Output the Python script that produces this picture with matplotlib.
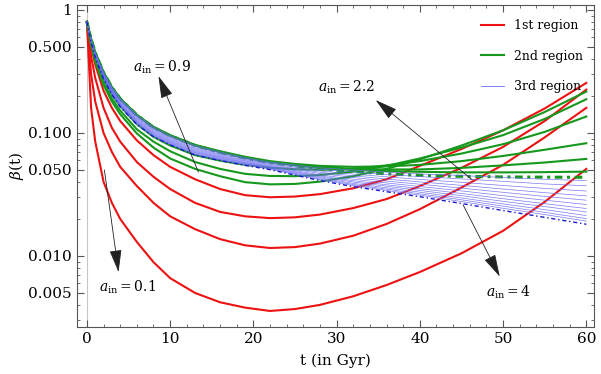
import matplotlib.pyplot as plt
from matplotlib.lines import Line2D

plt.rcParams['font.family'] = 'DejaVu Serif'
plt.rcParams['mathtext.fontset'] = 'dejavuserif'

t = [0, 0.5, 1, 2, 3, 4, 6, 8, 10, 13, 16, 19, 22, 25, 28, 32, 36, 40, 45, 50, 55, 60]

# 1st region (red)
red_curves = [
    [0.80, 0.16, 0.085, 0.040, 0.027, 0.020, 0.013, 0.0089, 0.0066, 0.0050, 0.0042, 0.0038,
     0.00357, 0.0037, 0.0040, 0.0047, 0.0058, 0.0074, 0.0105, 0.0160, 0.0275, 0.051],
    [0.80, 0.30, 0.18, 0.10, 0.070, 0.053, 0.037, 0.027, 0.021, 0.0165, 0.0137, 0.0122,
     0.0116, 0.0118, 0.0126, 0.0146, 0.0182, 0.024, 0.036, 0.055, 0.092, 0.16],
    [0.80, 0.42, 0.28, 0.16, 0.11, 0.085, 0.058, 0.044, 0.035, 0.027, 0.0228, 0.0210,
     0.0203, 0.0206, 0.0217, 0.0245, 0.029, 0.037, 0.052, 0.077, 0.125, 0.225],
    [0.80, 0.50, 0.36, 0.22, 0.16, 0.125, 0.087, 0.066, 0.053, 0.042, 0.0350, 0.0312,
     0.0300, 0.0304, 0.0318, 0.0355, 0.042, 0.054, 0.074, 0.105, 0.158, 0.255],
]

# 2nd region (green)
green_curves = [
    [0.80, 0.52, 0.38, 0.245, 0.18, 0.142, 0.099, 0.076, 0.062, 0.051, 0.0445, 0.0398,
     0.0382, 0.0385, 0.0402, 0.0445, 0.051, 0.061, 0.079, 0.105, 0.148, 0.217],
    [0.80, 0.53, 0.39, 0.255, 0.19, 0.152, 0.107, 0.085, 0.071, 0.058, 0.0510, 0.0465,
     0.0447, 0.0445, 0.0455, 0.0485, 0.054, 0.062, 0.076, 0.096, 0.13, 0.188],
    [0.80, 0.55, 0.41, 0.275, 0.205, 0.165, 0.118, 0.093, 0.079, 0.066, 0.0595, 0.0550,
     0.0522, 0.0507, 0.0502, 0.0510, 0.0545, 0.059, 0.068, 0.081, 0.102, 0.136],
    [0.80, 0.58, 0.45, 0.31, 0.235, 0.19, 0.14, 0.112, 0.096, 0.080, 0.071, 0.064,
     0.059, 0.056, 0.054, 0.0530, 0.0535, 0.055, 0.059, 0.065, 0.073, 0.0825],
    [0.80, 0.58, 0.45, 0.31, 0.235, 0.19, 0.14, 0.112, 0.095, 0.079, 0.070, 0.063,
     0.058, 0.055, 0.053, 0.051, 0.0505, 0.0505, 0.052, 0.0545, 0.0575, 0.0615],
    [0.80, 0.58, 0.45, 0.31, 0.235, 0.19, 0.14, 0.111, 0.095, 0.079, 0.070, 0.063,
     0.058, 0.0545, 0.052, 0.050, 0.049, 0.0483, 0.0478, 0.0478, 0.048, 0.0485],
]
green_limit = [0.80, 0.58, 0.45, 0.31, 0.235, 0.19, 0.14, 0.111, 0.095, 0.079, 0.0695, 0.0625,
               0.0575, 0.054, 0.051, 0.0485, 0.0465, 0.0452, 0.0444, 0.0439, 0.0437, 0.0436]

# 3rd region (blue, thin)
blue_curves = [
    [0.80, 0.58, 0.45, 0.31, 0.235, 0.19, 0.14, 0.112, 0.0951, 0.0791, 0.0700, 0.0630,
     0.0579, 0.0550, 0.0520, 0.0500, 0.0480, 0.0465, 0.0450, 0.0435, 0.0420, 0.0410],
    [0.80, 0.575, 0.445, 0.305, 0.231, 0.187, 0.137, 0.109, 0.0931, 0.0774, 0.0687, 0.0618,
     0.0570, 0.0537, 0.0506, 0.0482, 0.0459, 0.0442, 0.0423, 0.0404, 0.0385, 0.0372],
    [0.80, 0.571, 0.440, 0.301, 0.228, 0.183, 0.134, 0.107, 0.0912, 0.0757, 0.0673, 0.0608,
     0.0560, 0.0525, 0.0491, 0.0463, 0.0440, 0.0419, 0.0397, 0.0374, 0.0354, 0.0337],
    [0.80, 0.568, 0.436, 0.297, 0.224, 0.180, 0.132, 0.105, 0.0895, 0.0743, 0.0661, 0.0598,
     0.0552, 0.0514, 0.0479, 0.0448, 0.0422, 0.0400, 0.0375, 0.0350, 0.0327, 0.0308],
    [0.80, 0.566, 0.432, 0.294, 0.221, 0.177, 0.129, 0.103, 0.0879, 0.0729, 0.0650, 0.0590,
     0.0543, 0.0505, 0.0468, 0.0435, 0.0406, 0.0383, 0.0356, 0.0329, 0.0305, 0.0284],
    [0.80, 0.563, 0.428, 0.290, 0.218, 0.175, 0.127, 0.101, 0.0865, 0.0716, 0.0640, 0.0581,
     0.0536, 0.0494, 0.0456, 0.0421, 0.0392, 0.0367, 0.0338, 0.0309, 0.0284, 0.0262],
    [0.80, 0.560, 0.424, 0.287, 0.215, 0.172, 0.125, 0.0993, 0.0851, 0.0705, 0.0631, 0.0574,
     0.0530, 0.0486, 0.0447, 0.0409, 0.0379, 0.0353, 0.0322, 0.0292, 0.0266, 0.0243],
    [0.80, 0.557, 0.421, 0.284, 0.213, 0.170, 0.123, 0.098, 0.0839, 0.0695, 0.0624, 0.0568,
     0.0524, 0.0479, 0.0439, 0.0399, 0.0369, 0.0341, 0.0309, 0.0278, 0.0252, 0.0228],
    [0.80, 0.556, 0.418, 0.281, 0.211, 0.168, 0.121, 0.0964, 0.0828, 0.0686, 0.0615, 0.0561,
     0.0518, 0.0472, 0.0431, 0.0389, 0.0358, 0.0330, 0.0296, 0.0265, 0.0238, 0.0213],
    [0.80, 0.553, 0.415, 0.279, 0.209, 0.166, 0.120, 0.0953, 0.0818, 0.0676, 0.0608, 0.0555,
     0.0513, 0.0466, 0.0423, 0.0381, 0.0349, 0.0320, 0.0286, 0.0254, 0.0226, 0.0201],
    [0.80, 0.552, 0.413, 0.277, 0.207, 0.165, 0.118, 0.0942, 0.0809, 0.0668, 0.0603, 0.0550,
     0.0508, 0.0460, 0.0417, 0.0374, 0.0341, 0.0312, 0.0277, 0.0244, 0.0217, 0.0192],
]
blue_limit = [0.80, 0.55, 0.41, 0.275, 0.205, 0.163, 0.117, 0.093, 0.080, 0.066, 0.0596, 0.0545,
              0.0503, 0.0454, 0.0410, 0.0366, 0.0333, 0.0303, 0.0267, 0.0234, 0.0206, 0.0181]

# arrow annotations: label, label position, arrow tail, arrow head
notes = [
    ('0.1', (4.9, 0.0056), (2.1, 0.050), (3.8, 0.0074)),
    ('0.9', (9.0, 0.34), (13.4, 0.048), (8.6, 0.29)),
    ('2.2', (31.2, 0.235), (46.3, 0.0415), (34.7, 0.185)),
    ('4', (50.6, 0.0051), (45.2, 0.026), (49.6, 0.0068)),
]

RED = '#ee1111'
GREEN = '#15981c'
BLUE = '#6b6bf5'

fig = plt.figure(figsize=(6.01, 3.74), dpi=100)
ax = fig.add_axes([0.128, 0.126, 0.86, 0.861])

ax.axvline(0, color='#c8c8c8', lw=0.8, zorder=0)

for y in red_curves:
    ax.plot(t, y, color=RED, lw=1.5)
for y in green_curves:
    ax.plot(t, y, color=GREEN, lw=1.5)
ax.plot(t, green_limit, color=GREEN, lw=2.2, ls=(0, (2.5, 1.5, 1, 1.5)))
for y in blue_curves:
    ax.plot(t, y, color=BLUE, lw=0.5, alpha=0.9)
ax.plot(t, blue_limit, color='#1a1ad0', lw=1.0, ls=(0, (3, 2, 1, 2)))

for lab, txt_pos, tail, head in notes:
    ax.annotate('', xy=head, xytext=tail,
                arrowprops=dict(arrowstyle='-|>,head_length=1.4,head_width=0.38',
                                color='#222222', lw=0.6, shrinkA=0, shrinkB=0))
    ax.text(txt_pos[0], txt_pos[1], r'$a_{\rm in} = %s$' % lab,
            ha='center', va='center', fontsize=10)

ax.set_yscale('log')
ax.set_xlim(-1.2, 60.9)
ax.set_ylim(0.00265, 1.1)
ax.set_xticks([0, 10, 20, 30, 40, 50, 60])
ax.set_xticks(range(0, 61, 2), minor=True)
ax.set_yticks([0.005, 0.01, 0.05, 0.1, 0.5, 1])
ax.set_yticklabels(['0.005', '0.010', '0.050', '0.100', '0.500', '1'])
ax.tick_params(which='both', direction='in', top=True, right=True, colors='#555555',
               labelcolor='black', labelsize=11)
ax.tick_params(which='major', length=5)
ax.tick_params(which='minor', length=2.5)
for s in ax.spines.values():
    s.set_color('#555555')

ax.set_xlabel('t (in Gyr)', fontsize=11, labelpad=6)
ax.set_ylabel(r'$\beta$(t)', fontsize=11, labelpad=2)

handles = [Line2D([], [], color=RED, lw=1.5),
           Line2D([], [], color=GREEN, lw=1.5),
           Line2D([], [], color=BLUE, lw=0.6)]
ax.legend(handles, ['1st region', '2nd region', '3rd region'], loc='upper right',
          bbox_to_anchor=(1.0, 0.99), frameon=False, fontsize=9, handlelength=1.8,
          handletextpad=0.8, labelspacing=1.4)

fig.savefig('out.png', dpi=100)
